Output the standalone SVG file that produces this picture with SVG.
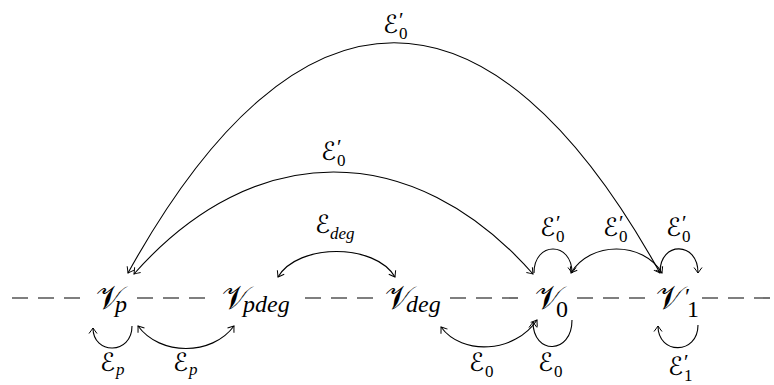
<svg xmlns="http://www.w3.org/2000/svg" width="774" height="385" viewBox="0 0 774 385">
<style>
.bg{fill:#fff}
.dash{fill:none;stroke:#000;stroke-width:1.1;stroke-dasharray:16 10}
.e{fill:none;stroke:#000;stroke-width:1.1}
.bi{marker-start:url(#arr);marker-end:url(#arr)}
.one{marker-end:url(#arr)}
.V{font-family:"DejaVu Sans",sans-serif;font-size:33px;fill:#000}
.E{font-family:"DejaVu Sans",sans-serif;font-size:25px;fill:#000}
.si{font-family:"Liberation Serif",serif;font-style:italic;fill:#000}
.su{font-family:"Liberation Serif",serif;fill:#000}
.ns{font-size:24px}
.es{font-size:17px}
.pr{font-size:21px}
</style>
<defs>
<marker id="arr" viewBox="-7 -5 9 10" markerWidth="9" markerHeight="10" refX="0" refY="0" orient="auto-start-reverse" markerUnits="userSpaceOnUse">
<path d="M-5.5,-4 Q-1.5,-1 0,0 Q-1.5,1 -5.5,4" fill="none" stroke="#000" stroke-width="1"/>
</marker>
</defs>
<rect class="bg" width="774" height="385"/>
<g id="connectors">
<path class="dash" d="M12,298 H80"/>
<path class="dash" d="M137,298 H210"/>
<path class="dash" d="M305,298 H376"/>
<path class="dash" d="M450,298 H519"/>
<path class="dash" d="M577,298 H650"/>
<path class="dash" d="M702,298 H774"/>
<path class="e bi" d="M660,273 C490,-34 298,-34 128,273"/>
<path class="e bi" d="M533,274 C413,138 254,138 134,274"/>
<path class="e bi" d="M278,277 C298,243 375,243 395,277"/>
<path class="e bi" d="M571,273 C590,241 643,241 662,273"/>
<path class="e one" d="M534,273 C534,241 572,241 572,273"/>
<path class="e one" d="M660,272 C660,241 698,241 698,273"/>
<path class="e one" d="M132,326 C132,355 93,355 93,328"/>
<path class="e bi" d="M138,326 C160,356 212,356 234,326"/>
<path class="e bi" d="M441,327 C462,356 515,353 537,320"/>
<path class="e one" d="M572,320 C572,355 533,355 533,322"/>
<path class="e one" d="M698,325 C698,355 658,355 658,326"/>
<g id="edge-labels">
<text class="E" x="383" y="33">ℰ<tspan class="su es" x="399" y="39">0</tspan><tspan class="su pr" x="399" y="27">′</tspan></text>
<text class="E" x="321" y="160">ℰ<tspan class="su es" x="337" y="166">0</tspan><tspan class="su pr" x="337" y="154">′</tspan></text>
<text class="E" x="315" y="233">ℰ<tspan class="si es" x="330" y="239">deg</tspan></text>
<text class="E" x="540" y="236">ℰ<tspan class="su es" x="556" y="242">0</tspan><tspan class="su pr" x="556" y="230">′</tspan></text>
<text class="E" x="603" y="236">ℰ<tspan class="su es" x="619" y="242">0</tspan><tspan class="su pr" x="619" y="230">′</tspan></text>
<text class="E" x="666" y="236">ℰ<tspan class="su es" x="682" y="242">0</tspan><tspan class="su pr" x="682" y="230">′</tspan></text>
<text class="E" x="100" y="371">ℰ<tspan class="si es" x="116" y="375">p</tspan></text>
<text class="E" x="173" y="371">ℰ<tspan class="si es" x="189" y="375">p</tspan></text>
<text class="E" x="469" y="371">ℰ<tspan class="su es" x="485" y="377">0</tspan></text>
<text class="E" x="538" y="371">ℰ<tspan class="su es" x="554" y="377">0</tspan></text>
<text class="E" x="668" y="375">ℰ<tspan class="su es" x="684" y="381">1</tspan><tspan class="su pr" x="684" y="369">′</tspan></text>
</g>
</g>
<g id="node-vp"><text class="V" x="96" y="309">𝒱<tspan class="si ns" x="115" y="312">p</tspan></text></g>
<g id="node-vpdeg"><text class="V" x="222" y="309">𝒱<tspan class="si ns" x="243" y="312">pdeg</tspan></text></g>
<g id="node-vdeg"><text class="V" x="385" y="309">𝒱<tspan class="si ns" x="406" y="312">deg</tspan></text></g>
<g id="node-v0"><text class="V" x="535" y="309">𝒱<tspan class="su ns" x="556" y="317">0</tspan></text></g>
<g id="node-v1"><text class="V" x="656" y="309">𝒱<tspan class="su ns" x="685" y="304">′</tspan><tspan class="su ns" x="687" y="317">1</tspan></text></g>
</svg>
